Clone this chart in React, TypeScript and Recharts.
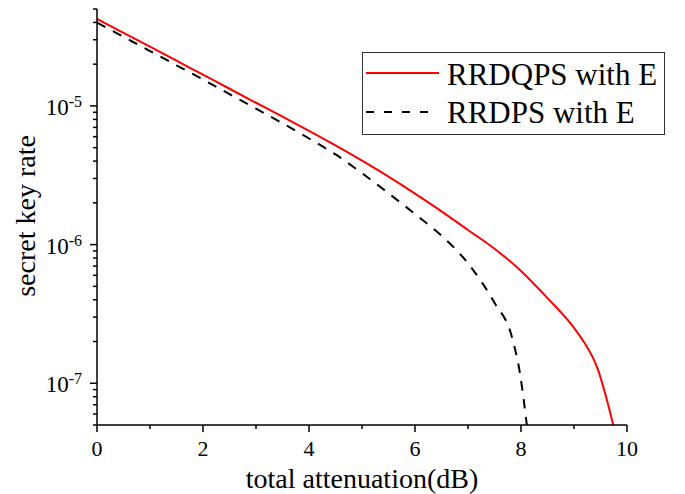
import React from 'react';
import { LineChart, Line, XAxis, YAxis, Legend } from 'recharts';

const redX = [0, 0.5, 1, 1.5, 2, 2.5, 3, 3.5, 4, 4.5, 5, 5.5, 6, 6.5, 7, 7.5, 8, 8.5, 9, 9.2, 9.35, 9.45, 9.62, 9.74];
const redY = [
  4.246e-5, 3.365e-5, 2.673e-5, 2.118e-5, 1.679e-5, 1.33e-5, 1.054e-5, 8.356e-6, 6.607e-6, 5.188e-6,
  4.027e-6, 3.09e-6, 2.333e-6, 1.738e-6, 1.274e-6, 9.33e-7, 6.457e-7, 4.111e-7, 2.512e-7, 1.95e-7,
  1.549e-7, 1.259e-7, 7.59e-8, 5e-8,
];
const blackX = [0, 0.5, 1, 1.5, 2, 2.5, 3, 3.5, 4, 4.5, 5, 5.5, 6, 6.5, 7, 7.5, 7.83, 7.98, 8.11];
const blackY = [
  3.981e-5, 3.148e-5, 2.489e-5, 1.963e-5, 1.549e-5, 1.216e-5, 9.55e-6, 7.499e-6, 5.821e-6, 4.467e-6,
  3.273e-6, 2.344e-6, 1.66e-6, 1.161e-6, 7.328e-7, 3.802e-7, 2.148e-7, 1.18e-7, 5e-8,
];

const seriesNames = ['RRDQPS with E', 'RRDPS with E'];
const xTicks = [0, 1, 2, 3, 4, 5, 6, 7, 8, 9, 10];
const xLabelTicks = [0, 2, 4, 6, 8, 10];
const yTicks = [
  5e-8, 6e-8, 7e-8, 8e-8, 9e-8,
  1e-7, 2e-7, 3e-7, 4e-7, 5e-7, 6e-7, 7e-7, 8e-7, 9e-7,
  1e-6, 2e-6, 3e-6, 4e-6, 5e-6, 6e-6, 7e-6, 8e-6, 9e-6,
  1e-5, 2e-5, 3e-5, 4e-5, 5e-5,
];

const redData = redX.map((x, i) => ({ x, y: redY[i] }));
const blackData = blackX.map((x, i) => ({ x, y: blackY[i] }));

const FONT = '"Liberation Serif", "Times New Roman", serif';

const YTick = (props: any) => {
  const { x, y, payload } = props;
  const v = payload.value as number;
  const exp = Math.round(Math.log10(v));
  const major = Math.abs(v - Math.pow(10, exp)) / v < 1e-6;
  return (
    <g>
      <line x1={x} x2={x - (major ? 7 : 4)} y1={y} y2={y} stroke="#000" strokeWidth={1.5} />
      {major && (
        <text x={x - 15} y={y + 9} textAnchor="end" fontFamily={FONT} fontSize={23} fill="#000">
          <tspan>10</tspan>
          <tspan dy={-8} fontSize={16}>{`-${-exp}`}</tspan>
        </text>
      )}
    </g>
  );
};

const XTick = (props: any) => {
  const { x, y, payload } = props;
  const v = payload.value as number;
  const major = xLabelTicks.includes(v);
  return (
    <g>
      <line x1={x} x2={x} y1={y} y2={y + (major ? 7 : 4)} stroke="#000" strokeWidth={1.5} />
      {major && (
        <text x={x} y={y + 31} textAnchor="middle" fontFamily={FONT} fontSize={22} fill="#000">
          {v}
        </text>
      )}
    </g>
  );
};

const XTitle = (props: any) => {
  const vb = props.viewBox || { x: 97, y: 425, width: 530, height: 69 };
  return (
    <text x={vb.x + vb.width / 2} y={488} textAnchor="middle" fontFamily={FONT} fontSize={28} fill="#000">
      total attenuation(dB)
    </text>
  );
};

const YTitle = (props: any) => {
  const vb = props.viewBox || { x: 37, y: 9, width: 60, height: 416 };
  const cy = vb.y + vb.height / 2 - 1;
  return (
    <text
      x={35}
      y={cy}
      transform={`rotate(-90 35 ${cy})`}
      textAnchor="middle"
      fontFamily={FONT}
      fontSize={28}
      fill="#000"
    >
      secret key rate
    </text>
  );
};

const LegendBox = () => (
  <svg width={305} height={85} style={{ display: 'block' }}>
    <rect x={0.5} y={0.5} width={302} height={82} fill="#fff" stroke="#333" strokeWidth={1} />
    <line x1={4} x2={77} y1={21} y2={21} stroke="#ff0000" strokeWidth={2} />
    <line x1={4} x2={72} y1={60} y2={60} stroke="#000" strokeWidth={2} strokeDasharray="8 10" />
    <text x={85} y={33} fontFamily={FONT} fontSize={31} fill="#000">{seriesNames[0]}</text>
    <text x={85} y={71} fontFamily={FONT} fontSize={31} fill="#000">{seriesNames[1]}</text>
  </svg>
);

export default function App() {
  return (
    <div style={{ position: 'absolute', left: 0, top: 0, width: 685, height: 494, background: '#fff' }}>
      <LineChart width={685} height={494} margin={{ top: 9, right: 58, bottom: 0, left: 37 }}>
        <XAxis
          type="number"
          dataKey="x"
          domain={[0, 10]}
          ticks={xTicks}
          interval={0}
          tickSize={0}
          tickMargin={0}
          tickLine={false}
          tick={<XTick />}
          height={69}
          axisLine={{ stroke: '#000', strokeWidth: 1.5 }}
          label={<XTitle />}
          allowDataOverflow
        />
        <YAxis
          type="number"
          dataKey="y"
          scale="log"
          domain={[5e-8, 5e-5]}
          ticks={yTicks}
          interval={0}
          tickSize={0}
          tickMargin={0}
          tickLine={false}
          tick={<YTick />}
          width={60}
          axisLine={{ stroke: '#000', strokeWidth: 1.5 }}
          label={<YTitle />}
          allowDataOverflow
        />
        <Legend
          layout="vertical"
          align="center"
          verticalAlign="middle"
          content={<LegendBox />}
          wrapperStyle={{ position: 'absolute', left: 362, top: 52, width: 305, height: 85 }}
        />
        <Line
          data={redData}
          dataKey="y"
          name={seriesNames[0]}
          type="monotone"
          stroke="#ff0000"
          strokeWidth={2}
          dot={false}
          activeDot={false}
          isAnimationActive={false}
        />
        <Line
          data={blackData}
          dataKey="y"
          name={seriesNames[1]}
          type="monotone"
          stroke="#000"
          strokeWidth={2}
          strokeDasharray="9.5 8.5"
          dot={false}
          activeDot={false}
          isAnimationActive={false}
        />
      </LineChart>
    </div>
  );
}
